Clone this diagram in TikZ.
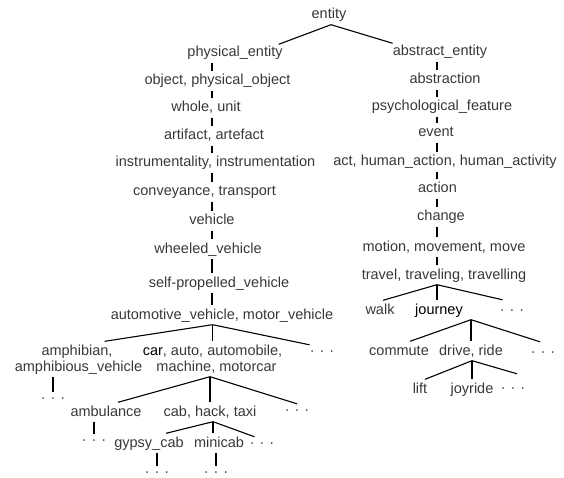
\documentclass[tikz,border=0pt]{standalone}
\usepackage{fontspec}
\setmainfont{Liberation Sans}
\colorlet{txt}{black!78}
\tikzset{
  word/.style={anchor=base, inner sep=0pt, text height=13.5pt, text depth=5.5pt,
    text=txt, font=\fontsize{14.5}{17}\selectfont},
  etc/.style={word, text height=10pt, text depth=2pt},
  branch/.style={line width=1.1pt},
}
\newcommand{\etcdots}{·\hspace{5pt}·\hspace{5pt}·}
\begin{document}
\begin{tikzpicture}[x=1pt, y=-1pt]
  \useasboundingbox (0,0) rectangle (564,478);
  \coordinate (spL) at (212,0);
  \coordinate (spR) at (437,0);

  % root and the physical side
  \node[word] (ent) at (329,19) {entity};
  \node[word] (pe) at (235,57) {physical\_entity};
  \node[word] (obj) at (217.5,85) {object, physical\_object};
  \node[word] (whole) at (206,112) {whole, unit};
  \node[word] (art) at (214,140) {artifact, artefact};
  \node[word] (instr) at (215.5,167) {instrumentality, instrumentation};
  \node[word] (conv) at (204.5,196) {conveyance, transport};
  \node[word] (veh) at (212,225) {vehicle};
  \node[word] (wheel) at (208,253) {wheeled\_vehicle};
  \node[word] (self) at (219,287) {self-propelled\_vehicle};
  \node[word] (auto) at (222,319) {automotive\_vehicle, motor\_vehicle};

  \node[word] (amphA) at (77,355) {amphibian,};
  \node[word] (amphB) at (78.5,371) {amphibious\_vehicle};
  \node[word] (carA) at (212.5,355) {\textcolor{black}{car}, auto, automobile,};
  \node[word] (carB) at (216.5,371) {machine, motorcar};
  \node[etc] (autoetc) at (322,355) {\etcdots};
  \node[etc] (amphetc) at (53,402) {\etcdots};

  \node[word] (amb) at (106,416) {ambulance};
  \node[word] (cab) at (210,416) {cab, hack, taxi};
  \node[etc] (caretc) at (297,414) {\etcdots};
  \node[etc] (ambetc) at (94,444) {\etcdots};

  \node[word] (gyp) at (149,447) {gypsy\_cab};
  \node[word] (mini) at (219,447) {minicab};
  \node[etc] (cabetc) at (262,447) {\etcdots};
  \node[etc] (gypetc) at (157,476) {\etcdots};
  \node[etc] (minietc) at (216,476) {\etcdots};

  % the abstract side
  \node[word] (ae) at (440,56) {abstract\_entity};
  \node[word] (abs) at (445,84) {abstraction};
  \node[word] (psy) at (442,111) {psychological\_feature};
  \node[word] (evt) at (436,137) {event};
  \node[word] (act) at (445,166) {act, human\_action, human\_activity};
  \node[word] (actn) at (437.5,193) {action};
  \node[word] (chg) at (441,221) {change};
  \node[word] (mot) at (444,251) {motion, movement, move};
  \node[word] (trv) at (444,279) {travel, traveling, travelling};

  \node[word] (walk) at (380,314) {walk};
  \node[word, text=black] (jour) at (439,314) {journey};
  \node[etc] (trvetc) at (512,314) {\etcdots};
  \node[word] (com) at (399,355) {commute};
  \node[word] (drv) at (471,355) {drive, ride};
  \node[etc] (jouretc) at (543,356) {\etcdots};
  \node[word] (lift) at (420,393) {lift};
  \node[word] (joy) at (472,393) {joyride};
  \node[etc] (drvetc) at (513,392) {\etcdots};

  % branches
  \draw[branch] ([xshift=2]ent.south) -- ([xshift=-4,yshift=-1]pe.north east);
  \draw[branch] ([xshift=2]ent.south) -- ([yshift=-1]ae.north west);

  \draw[branch] (pe.south -| spL) -- (obj.north -| spL);
  \draw[branch] (obj.south -| spL) -- (whole.north -| spL);
  \draw[branch] (whole.south -| spL) -- (art.north -| spL);
  \draw[branch] (art.south -| spL) -- (instr.north -| spL);
  \draw[branch] (instr.south -| spL) -- (conv.north -| spL);
  \draw[branch] (conv.south -| spL) -- (veh.north -| spL);
  \draw[branch] (veh.south -| spL) -- (wheel.north -| spL);
  \draw[branch] (wheel.south -| spL) -- (self.north -| spL);
  \draw[branch] (self.south -| spL) -- (auto.north -| spL);

  \draw[branch] (auto.south -| carA) -- ([xshift=-8]amphA.north east);
  \draw[branch] (auto.south -| carA) -- (carA.north);
  \draw[branch] (auto.south -| carA) -- (autoetc.north west);
  \draw[branch] (amphetc.north |- amphB.south) -- (amphetc.north);

  \draw[branch] (carB.south -| cab) -- ([xshift=12]amb.north);
  \draw[branch] (carB.south -| cab) -- (cab.north);
  \draw[branch] (carB.south -| cab) -- (caretc.north);
  \draw[branch] (ambetc.north |- amb.south) -- (ambetc.north);

  \coordinate (cabfork) at ([xshift=3]cab.south);
  \draw[branch] (cabfork) -- ([xshift=17]gyp.north);
  \draw[branch] (cabfork) -- (cabfork |- mini.north);
  \draw[branch] (cabfork) -- ([xshift=5]cabetc.north west);
  \draw[branch] (gypetc.north |- gyp.south) -- (gypetc.north);
  \draw[branch] (minietc.north |- mini.south) -- (minietc.north);

  \draw[branch] (ae.south -| spR) -- (abs.north -| spR);
  \draw[branch] (abs.south -| spR) -- (psy.north -| spR);
  \draw[branch] (psy.south -| spR) -- (evt.north -| spR);
  \draw[branch] (evt.south -| spR) -- (act.north -| spR);
  \draw[branch] (act.south -| spR) -- (actn.north -| spR);
  \draw[branch] (actn.south -| spR) -- (chg.north -| spR);
  \draw[branch] (chg.south -| spR) -- (mot.north -| spR);
  \draw[branch] (mot.south -| spR) -- (trv.north -| spR);

  \draw[branch] (trv.south -| spR) -- ([xshift=3]walk.north);
  \draw[branch] (trv.south -| spR) -- (jour.north -| spR);
  \draw[branch] (trv.south -| spR) -- ([xshift=3,yshift=4]trvetc.north west);

  \draw[branch] (jour.south -| drv) -- ([xshift=11]com.north);
  \draw[branch] (jour.south -| drv) -- (drv.north);
  \draw[branch] (jour.south -| drv) -- ([xshift=-3,yshift=4]jouretc.north);

  \draw[branch] (drv.south -| joy) -- ([xshift=5]lift.north);
  \draw[branch] (drv.south -| joy) -- (joy.north);
  \draw[branch] (drv.south -| joy) -- ([xshift=4,yshift=8]drvetc.north);
\end{tikzpicture}
\end{document}
